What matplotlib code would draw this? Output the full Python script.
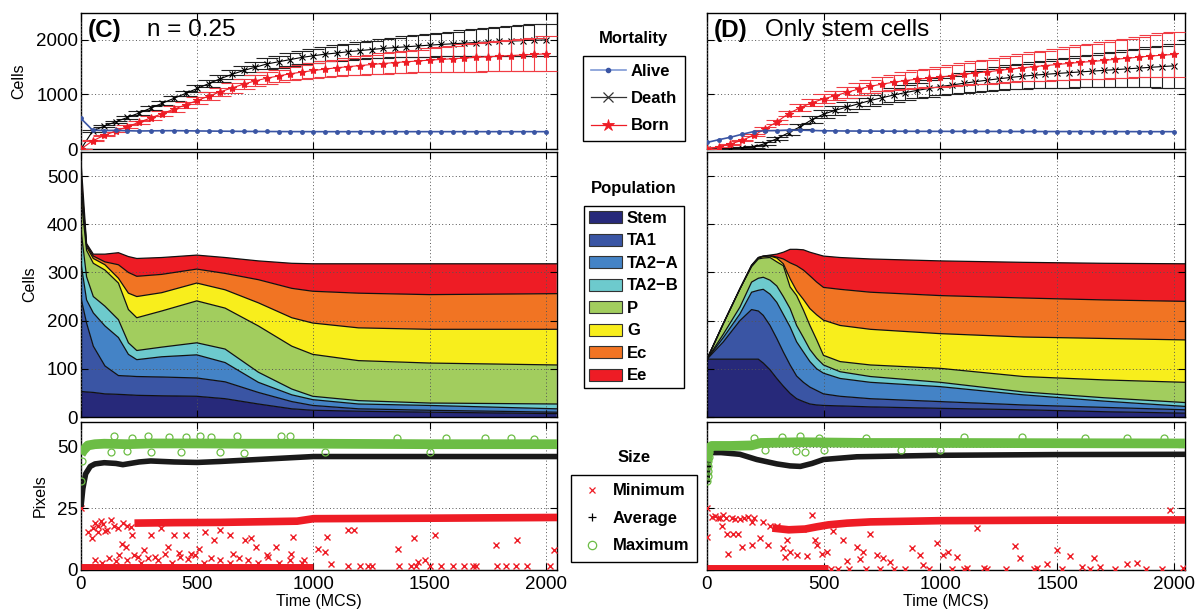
import numpy as np
import matplotlib
matplotlib.use("Agg")
import matplotlib.pyplot as plt
from matplotlib.lines import Line2D
from matplotlib.patches import Patch

plt.rcParams['font.family'] = ['Liberation Sans', 'DejaVu Sans']

# ---------------- data ----------------
t_mort = np.arange(0, 2001, 50)

c_alive = [560, 345, 338, 341, 335, 330, 333, 335, 336, 334, 331, 329, 327, 325, 323, 322, 321, 320, 319, 319,
           318, 318, 318, 318, 318, 318, 318, 318, 318, 318, 318, 318, 318, 318, 318, 318, 318, 318, 318, 318, 318]
c_death = [0, 330, 420, 500, 580, 660, 750, 840, 930, 1020, 1110, 1200, 1290, 1370, 1440, 1500, 1560, 1600, 1640, 1680,
           1710, 1740, 1760, 1785, 1805, 1825, 1845, 1860, 1875, 1890, 1905, 1918, 1930, 1942, 1953, 1963, 1972, 1980,
           1988, 1995, 2000]
c_death_err = [0, 10, 15, 20, 25, 30, 35, 40, 45, 50, 60, 65, 70, 80, 85, 95, 100, 110, 115, 120, 130, 135, 145, 150,
               160, 165, 175, 180, 190, 200, 210, 215, 225, 235, 245, 255, 265, 275, 280, 290, 300]
c_born = [0, 150, 250, 330, 410, 490, 570, 650, 730, 810, 890, 970, 1050, 1120, 1190, 1250, 1300, 1340, 1380, 1410,
          1440, 1465, 1490, 1510, 1530, 1550, 1568, 1585, 1600, 1615, 1630, 1643, 1656, 1668, 1680, 1692, 1703, 1714,
          1725, 1735, 1745]
c_born_err = [0, 10, 15, 20, 25, 30, 35, 40, 50, 55, 60, 70, 75, 85, 90, 100, 105, 115, 120, 130, 135, 145, 150, 160,
              170, 175, 185, 195, 200, 210, 220, 230, 240, 250, 260, 270, 280, 290, 300, 310, 320]

d_alive = [120, 170, 215, 270, 320, 335, 338, 347, 346, 340, 334, 332, 330, 329, 328, 327, 326, 325, 324, 324, 324,
           323, 323, 322, 322, 322, 321, 321, 321, 320, 320, 320, 320, 319, 319, 319, 319, 318, 318, 318, 318]
d_death = [0, 5, 10, 20, 40, 100, 190, 300, 410, 540, 640, 710, 770, 830, 890, 940, 990, 1035, 1075, 1110,
           1145, 1175, 1205, 1235, 1262, 1288, 1312, 1334, 1354, 1370, 1385, 1400, 1414, 1428, 1442, 1456, 1470, 1484,
           1498, 1512, 1525]
d_death_err = [0, 3, 5, 8, 15, 20, 30, 40, 50, 60, 70, 80, 90, 100, 108, 115, 122, 130, 140, 150, 160, 170, 180, 190,
               200, 210, 220, 230, 240, 250, 260, 272, 284, 296, 310, 324, 338, 352, 368, 384, 400]
d_born = [0, 40, 90, 160, 250, 370, 500, 650, 760, 850, 920, 980, 1040, 1100, 1150, 1190, 1225, 1255, 1280, 1300,
          1320, 1345, 1370, 1395, 1415, 1440, 1465, 1490, 1510, 1530, 1550, 1570, 1590, 1605, 1625, 1645, 1665, 1685,
          1705, 1720, 1735]
d_born_err = [0, 5, 8, 12, 20, 30, 40, 50, 60, 70, 80, 90, 100, 110, 120, 130, 140, 150, 160, 170, 180, 190, 200, 210,
              220, 230, 240, 250, 262, 274, 286, 298, 310, 322, 334, 346, 358, 370, 385, 400, 420]

# population, cumulative level (top of each type)
pop_names = ['Stem', 'TA1', 'TA2\u2212A', 'TA2\u2212B', 'P', 'G', 'Ec', 'Ee']
pop_colors = ['#27297a', '#3a55a4', '#4483c6', '#6dcacd', '#a2cd5e', '#f8ee1c', '#f17423', '#ee1c25']

c_pop_t = [0, 24, 53, 103, 161, 204, 240, 347, 498, 620, 763, 907, 997, 1194, 1498, 2047]
c_stem = [53, 52, 51, 48, 47, 46, 45, 44, 43, 38, 27, 17, 14, 12, 10, 7]
c_ta1 = [247, 195, 147, 106, 86, 85, 84, 83, 81, 73, 51, 32, 24, 17, 14, 10]
c_ta2a = [319, 243, 216, 189, 165, 130, 119, 125, 129, 113, 72, 46, 36, 27, 24, 17]
c_ta2b = [388, 291, 250, 230, 202, 154, 138, 145, 154, 141, 93, 58, 43, 34, 29, 27]
c_p = [456, 346, 319, 305, 278, 223, 206, 220, 241, 226, 189, 147, 130, 117, 112, 108]
c_g = [484, 353, 329, 316, 288, 257, 250, 258, 278, 264, 237, 206, 195, 185, 182, 182]
c_ec = [497, 357, 334, 322, 316, 300, 292, 296, 307, 298, 285, 267, 261, 257, 254, 256]
c_ee = [530, 360, 338, 338, 341, 333, 329, 331, 336, 331, 324, 319, 318, 318, 318, 318]

d_pop_t = [0, 70, 141, 191, 220, 241, 270, 299, 327, 356, 384, 413, 441, 470, 499, 570, 700, 999, 1356, 1700, 2048]
d_stem = [120, 120, 120, 120, 120, 112, 98, 80, 64, 49, 38, 32, 27, 25, 24, 23, 21, 18, 15, 11, 8]
d_ta1 = [120, 156, 200, 223, 220, 211, 190, 163, 135, 108, 85, 72, 62, 55, 48, 43, 38, 32, 25, 20, 15]
d_ta2a = [120, 165, 214, 259, 263, 265, 255, 238, 213, 187, 156, 135, 115, 100, 91, 80, 72, 63, 46, 33, 22]
d_ta2b = [120, 172, 228, 280, 288, 290, 284, 272, 250, 225, 190, 165, 140, 122, 108, 94, 84, 72, 52, 40, 30]
d_p = [120, 194, 266, 312, 328, 330, 331, 322, 314, 270, 252, 222, 190, 160, 128, 115, 108, 101, 84, 77, 72]
d_g = [120, 194, 266, 314, 330, 333, 334, 330, 318, 287, 262, 244, 225, 212, 201, 190, 182, 173, 166, 163, 160]
d_ec = [120, 194, 266, 315, 331, 334, 335, 332, 328, 320, 314, 305, 293, 280, 269, 265, 259, 252, 247, 243, 240]
d_ee = [120, 194, 266, 315, 331, 334, 336, 338, 342, 348, 348, 347, 342, 338, 334, 331, 328, 324, 321, 319, 318]

# size: dense bands (knots) and loose points
c_max_t = [0, 10, 30, 60, 100, 200, 300, 500, 700, 1000, 1500, 2048]
c_max_v = [47, 48.5, 50.5, 51, 51.2, 51, 51.3, 51.3, 51.2, 51.2, 51, 51]
c_avg_t = [0, 8, 20, 40, 60, 100, 150, 180, 250, 300, 400, 500, 600, 800, 1000, 1500, 2048]
c_avg_v = [25.6, 33, 39, 42, 43, 43.5, 43.2, 42.7, 43.8, 44.2, 43.8, 43.6, 44, 45, 46, 46, 46]
c_min_t = [230, 400, 600, 800, 930, 1000, 1500, 2048]
c_min_v = [19, 19.2, 19.3, 19.6, 19.8, 20.8, 21, 21.3]
c_low_t = [0, 1000]
c_low_v = [1.3, 1.3]

c_min_pts_t = [0, 30, 47, 50, 60, 71, 75, 88, 95, 105, 113, 129, 140, 160, 162, 178, 180, 195, 200, 215, 220, 244,
               269, 302, 318, 343, 376, 401, 425, 450, 475, 508, 533, 574, 599, 640, 656, 706, 731, 755, 805, 838,
               904, 912, 961, 1018, 1051, 1060, 1076, 1150, 1175, 1233, 1365, 1431, 1448, 1481, 1522, 1687, 1786,
               1876, 2033, 60, 90, 120, 150, 200, 230, 260, 290, 330, 360, 390, 420, 460, 490, 530, 560, 600, 640,
               680, 720, 760, 800, 850, 900, 950, 1150, 1200, 1250, 1370, 1420, 1440, 1500, 1550, 1600, 1650, 1700,
               1790, 1830, 1870, 1920, 2020]
c_min_pts_v = [25, 15.6, 12.8, 17, 19, 17.9, 15.5, 19.7, 18.5, 16, 16.3, 20.4, 18, 17, 5.9, 10.5, 19, 9.4, 18, 17.5,
               14.2, 5.2, 8, 14.2, 5.2, 16.9, 9.4, 14.2, 5.2, 14.2, 6.6, 8.7, 15.6, 12.1, 16.3, 14.2, 6.6, 12.1, 12.8,
               9.4, 5.2, 9.4, 6.6, 13.2, 3.9, 8.7, 7.3, 13.2, 2.5, 16.3, 16.3, 1.8, 8.7, 12.8, 3.2, 3.9, 14.2, 1.8,
               10.1, 12.1, 8, 4, 3, 5, 3.5, 4, 6, 3, 5, 4, 6.5, 3, 7, 4.5, 6, 3, 5, 4, 3, 5, 4, 3, 6, 3, 4, 3, 1.5,
               1.5, 1.5, 1.5, 1.5, 1.5, 1.5, 1.5, 1.5, 1.5, 1.5, 1.5, 1.5, 1.5, 1.5, 1.5]
c_max_pts_t = [0, 3, 140, 220, 290, 380, 450, 510, 560, 670, 860, 900, 1360, 1570, 1740, 1850, 1950, 130, 200, 300,
               430, 600, 700, 1050, 1500]
c_max_pts_v = [36, 44, 54.5, 53.5, 54.3, 53.8, 53.8, 54.2, 53.8, 54.3, 54.3, 54.2, 53.6, 53.5, 53.5, 53.6, 53.3, 48,
               48.3, 48, 47.7, 48, 47.6, 47.8, 47.7]

d_max_t = [0, 8, 20, 100, 190, 230, 400, 700, 1000, 1500, 2048]
d_max_v = [44, 49.5, 50.3, 50.3, 50.5, 51.5, 51.8, 51.5, 51.5, 51.4, 51.3]
d_avg_t = [0, 5, 15, 60, 141, 213, 300, 356, 400, 450, 499, 642, 999, 1500, 2048]
d_avg_v = [36, 45, 47.6, 47.6, 46.9, 44.8, 43, 42.2, 42, 43.2, 44.8, 45.9, 46.5, 46.8, 46.9]
d_min_t = [280, 350, 420, 470, 520, 600, 700, 1000, 1500, 2048]
d_min_v = [17, 16.3, 16.6, 17.5, 18.3, 19, 19.5, 20, 20.2, 20.3]
d_low_t = [0, 520]
d_low_v = [0.7, 0.7]

d_min_pts_t = [0, 0, 20, 34, 45, 55, 63, 70, 80, 84, 91, 106, 113, 120, 134, 141, 148, 160, 175, 191, 191, 200, 227,
               241, 263, 270, 299, 327, 334, 341, 356, 384, 413, 427, 448, 463, 470, 491, 513, 541, 584, 599, 641,
               656, 670, 698, 727, 756, 784, 877, 913, 927, 984, 1013, 1034, 1070, 1113, 1156, 1185, 1320, 1341,
               1413, 1456, 1499, 1556, 1606, 1656, 1684, 1799, 1842, 1985, 2041, 530, 560, 610, 680, 740, 800, 850,
               950, 1050, 1100, 1200, 1280, 1400, 1520, 1640, 1750, 1880, 1950]
d_min_pts_v = [25, 13.4, 21.5, 21.8, 21, 21.2, 17.7, 22.2, 21, 14.4, 6.6, 21.2, 14.4, 20.5, 14.4, 20.8, 9.2, 21, 21.3,
               19.4, 10.2, 21, 13, 19.6, 10.2, 17.7, 17.9, 8.8, 5.2, 12.3, 7.3, 5.9, 16.5, 5.5, 22.2, 12.3, 10.2, 6.6,
               7.3, 15.8, 12.3, 3.8, 9.5, 4.5, 7.3, 14.4, 5.9, 4.9, 3.1, 8.8, 5.9, 2.1, 10.9, 5.9, 7.3, 5.2, 1, 17.2,
               1, 9.7, 4.9, 1, 2.4, 8.1, 5.5, 1.3, 4.9, 1.3, 2.4, 2.7, 24.3, 1, 0.6, 0.6, 0.6, 0.6, 0.6, 0.6, 0.6,
               0.6, 0.6, 0.6, 0.6, 0.6, 0.6, 0.6, 0.6, 0.6, 0.6, 0.6]
d_max_pts_t = [2, 3, 4, 5, 6, 8, 10, 200, 320, 400, 480, 680, 1100, 1350, 1620, 1800, 1960, 250, 380, 420, 500, 830,
               1000]
d_max_pts_v = [36, 38, 40, 42, 44, 46, 48, 53.5, 54, 54.3, 53.5, 53.7, 54, 53.8, 53.6, 53.4, 53.6, 48.5, 48.2, 48,
               48.5, 48.7, 48.8]
d_avg_pts_t = [1, 2, 3, 5]
d_avg_pts_v = [36, 39, 42, 45]

RED = '#ee1c25'
GREEN = '#6cbd45'
BLUE = '#3a55a4'

# ---------------- figure ----------------
fig = plt.figure(figsize=(12, 6.14), dpi=100)
xl = [81 / 1200, 707 / 1200]
wl = [476 / 1200, 478 / 1200]
rows = {'top': ((614 - 149) / 614, 136.3 / 614),
        'mid': ((614 - 417) / 614, 265 / 614),
        'bot': ((614 - 570) / 614, 148 / 614)}


def style(ax, left_labels, bottom_labels):
    ax.set_xlim(0, 2048)
    ax.grid(True, ls=(0, (1, 2.5)), color='#555555', lw=0.7)
    ax.set_axisbelow(False)
    ax.tick_params(direction='in', top=True, right=True, length=5, width=0.8, labelsize=13.5,
                   labelleft=left_labels, labelbottom=bottom_labels)
    ax.tick_params(axis='x', pad=4)
    ax.tick_params(axis='y', pad=2)
    ax.set_xticks([0, 500, 1000, 1500, 2000])
    for s in ax.spines.values():
        s.set_linewidth(1.0)


def mortality(ax, alive, death, derr, born, berr):
    ax.errorbar(t_mort, death, yerr=derr, fmt='-x', color='k', ecolor='#222222', elinewidth=0.8,
                capsize=8, capthick=0.8, lw=0.8, ms=5, mew=0.8, zorder=3)
    ax.errorbar(t_mort, born, yerr=berr, fmt='-*', color=RED, ecolor='#f03c44', elinewidth=0.8,
                capsize=8, capthick=0.8, lw=0.8, ms=6, mew=0.8, zorder=4)
    ax.plot(t_mort, alive, '-', color=BLUE, marker='.', ms=5, lw=1.2, zorder=5)
    ax.set_ylim(0, 2500)
    ax.set_yticks([0, 1000, 2000])


def stack(ax, t, levels):
    prev = np.zeros(len(t))
    for lev, col in zip(levels, pop_colors):
        lev = np.array(lev, dtype=float)
        ax.fill_between(t, prev, lev, facecolor=col, edgecolor='none', zorder=2)
        ax.plot(t, lev, color='#111111', lw=0.9, zorder=3)
        prev = lev
    ax.set_ylim(0, 550)
    ax.set_yticks([0, 100, 200, 300, 400, 500])


def size(ax, mx_t, mx_v, av_t, av_v, mn_t, mn_v, lo_t, lo_v, mnp_t, mnp_v, mxp_t, mxp_v):
    ax.plot(lo_t, lo_v, color=RED, lw=5, solid_capstyle='butt', zorder=3)
    ax.plot(mn_t, mn_v, color=RED, lw=5.5, solid_capstyle='butt', zorder=3)
    ax.plot(mnp_t, mnp_v, 'x', color=RED, ms=4, mew=1.0, zorder=3)
    ax.plot(av_t, av_v, color='#1a1a1a', lw=4, solid_capstyle='butt', zorder=4)
    ax.plot(mx_t, mx_v, color=GREEN, lw=7, solid_capstyle='butt', zorder=5)
    ax.plot(mxp_t, mxp_v, 'o', mfc='none', mec=GREEN, ms=5, mew=0.9, zorder=5)
    ax.set_ylim(0, 60)
    ax.set_yticks([0, 25, 50])


for col in range(2):
    ax_t = fig.add_axes([xl[col], rows['top'][0], wl[col], rows['top'][1]])
    ax_m = fig.add_axes([xl[col], rows['mid'][0], wl[col], rows['mid'][1]])
    ax_b = fig.add_axes([xl[col], rows['bot'][0], wl[col], rows['bot'][1]])
    if col == 0:
        mortality(ax_t, c_alive, c_death, c_death_err, c_born, c_born_err)
        stack(ax_m, c_pop_t, [c_stem, c_ta1, c_ta2a, c_ta2b, c_p, c_g, c_ec, c_ee])
        size(ax_b, c_max_t, c_max_v, c_avg_t, c_avg_v, c_min_t, c_min_v, c_low_t, c_low_v,
             c_min_pts_t, c_min_pts_v, c_max_pts_t, c_max_pts_v)
        ax_t.set_ylabel('Cells', fontsize=11.5, labelpad=7)
        ax_m.set_ylabel('Cells', fontsize=11.5, labelpad=7)
        ax_b.set_ylabel('Pixels', fontsize=11.5, labelpad=7)
        ax_t.text(0.015, 0.87, '(C)', transform=ax_t.transAxes, fontsize=17.5, fontweight='bold', va='center')
        ax_t.text(0.139, 0.87, 'n = 0.25', transform=ax_t.transAxes, fontsize=17.5, va='center')
    else:
        mortality(ax_t, d_alive, d_death, d_death_err, d_born, d_born_err)
        stack(ax_m, d_pop_t, [d_stem, d_ta1, d_ta2a, d_ta2b, d_p, d_g, d_ec, d_ee])
        size(ax_b, d_max_t, d_max_v, d_avg_t, d_avg_v, d_min_t, d_min_v, d_low_t, d_low_v,
             d_min_pts_t, d_min_pts_v, d_max_pts_t, d_max_pts_v)
        ax_b.plot(d_avg_pts_t, d_avg_pts_v, '+', color='k', ms=4, mew=1, zorder=4)
        ax_t.text(0.015, 0.87, '(D)', transform=ax_t.transAxes, fontsize=17.5, fontweight='bold', va='center')
        ax_t.text(0.121, 0.87, 'Only stem cells', transform=ax_t.transAxes, fontsize=17.5, va='center')
    style(ax_t, col == 0, False)
    style(ax_m, col == 0, False)
    style(ax_b, col == 0, True)
    ax_b.set_xlabel('Time (MCS)', fontsize=11.5, labelpad=1)

# ---------------- legends ----------------
cx = 634 / 1200
lkw = dict(frameon=True, fancybox=False, edgecolor='k', framealpha=1,
           prop={'weight': 'bold', 'size': 12}, borderaxespad=0)

fig.text(cx, 1 - 38 / 614, 'Mortality', ha='center', va='center', fontsize=12, fontweight='bold')
h_mort = [Line2D([], [], color='#7f9ad6', lw=1.2, marker='.', mfc=BLUE, mec=BLUE, ms=6),
          Line2D([], [], color='#333333', lw=0.9, marker='x', ms=7, mew=0.9),
          Line2D([], [], color=RED, lw=0.9, marker='*', ms=9, mew=0.6)]
leg1 = fig.legend(h_mort, ['Alive', 'Death', 'Born'], loc='upper center',
                  bbox_to_anchor=(cx, 1 - 56 / 614), handlelength=2.1, handletextpad=0.3,
                  labelspacing=0.75, borderpad=0.45, **lkw)

fig.text(cx, 1 - 188 / 614, 'Population', ha='center', va='center', fontsize=12, fontweight='bold')
h_pop = [Patch(facecolor=c, edgecolor='#333333', lw=0.8) for c in pop_colors]
leg2 = fig.legend(h_pop, pop_names, loc='upper center', bbox_to_anchor=(cx, 1 - 206 / 614),
                  handlelength=1.95, handleheight=0.75, handletextpad=0.3, labelspacing=0.45,
                  borderpad=0.3, **lkw)

fig.text(cx, 1 - 458 / 614, 'Size', ha='center', va='center', fontsize=12, fontweight='bold')
h_size = [Line2D([], [], ls='none', marker='x', color=RED, ms=5, mew=0.9),
          Line2D([], [], ls='none', marker='+', color='k', ms=6, mew=0.9),
          Line2D([], [], ls='none', marker='o', mfc='none', mec=GREEN, ms=6, mew=0.9)]
leg3 = fig.legend(h_size, ['Minimum', 'Average', 'Maximum'], loc='upper center',
                  bbox_to_anchor=(cx, 1 - 475 / 614), handlelength=1.5, handletextpad=0.5,
                  labelspacing=0.75, borderpad=0.5, **lkw)
for lg in (leg1, leg2, leg3):
    lg.get_frame().set_linewidth(1.0)

fig.savefig('out.png', dpi=100)
